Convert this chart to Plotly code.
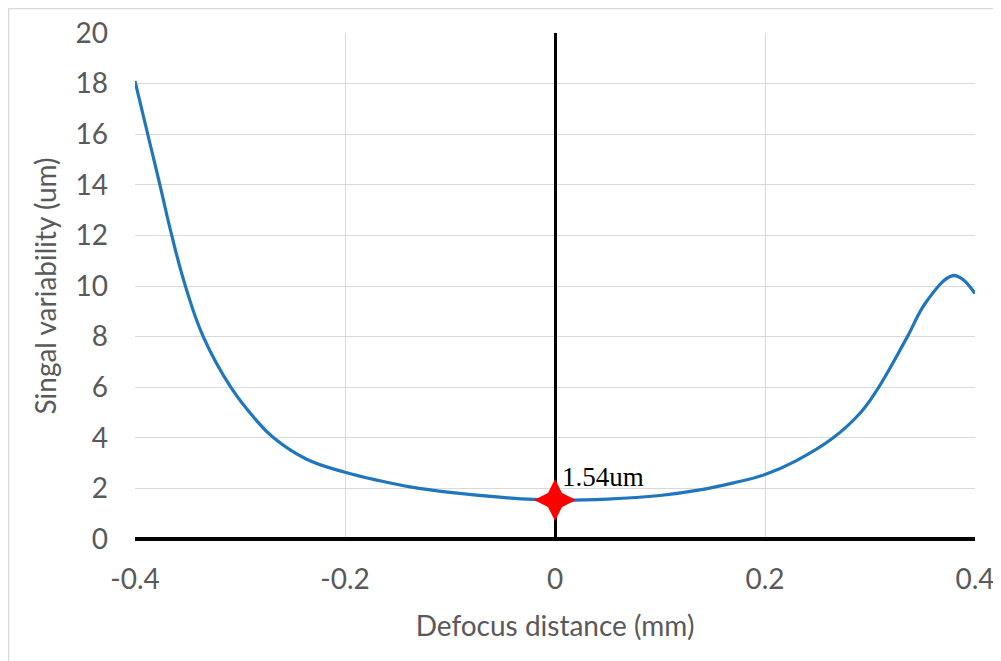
import plotly.graph_objects as go

defocus_mm = [-0.4, -0.387, -0.376, -0.365, -0.352, -0.335, -0.308, -0.285, -0.268, -0.2365,
              -0.2, -0.1667, -0.138, -0.1, -0.05, 0.0, 0.05, 0.1, 0.138, 0.17,
              0.2, 0.23, 0.265, 0.29, 0.306, 0.335, 0.354, 0.378, 0.387, 0.4]
variability_um = [18.1, 15.85, 13.95, 12.0, 10.0, 8.0, 5.95, 4.72, 4.0, 3.15,
                  2.64, 2.3, 2.06, 1.84, 1.645, 1.54, 1.58, 1.72, 1.94, 2.22,
                  2.55, 3.1, 4.0, 4.95, 5.85, 7.95, 9.4, 10.4, 10.3, 9.7]
min_x = [0.0]
min_y = [1.54]
min_label = "1.54um"
x_ticks = [-0.4, -0.2, 0, 0.2, 0.4]
x_ticklabels = ["-0.4", "-0.2", "0", "0.2", "0.4"]
y_ticks = list(range(0, 21, 2))

FONT = "Lato, Liberation Sans, sans-serif"
GRAY = "#595959"
FS = 28

# figure is placed 8px from page corner by the default body margin
W, H = 993, 653
ML, MR, MT, MB = 127, 26, 25, 122
PW, PH = W - ML - MR, H - MT - MB

fig = go.Figure()
fig.add_trace(go.Scatter(x=defocus_mm, y=variability_um, mode="lines",
                         line=dict(color="#1f76bd", width=3.2, shape="spline", smoothing=1.2),
                         showlegend=False, hoverinfo="skip"))
fig.add_trace(go.Scatter(x=min_x, y=min_y, mode="markers",
                         marker=dict(symbol="diamond-tall", size=30, color="#ff0000", line=dict(width=0)),
                         showlegend=False))
fig.add_trace(go.Scatter(x=min_x, y=min_y, mode="markers",
                         marker=dict(symbol="diamond-wide", size=30, color="#ff0000", line=dict(width=0)),
                         showlegend=False))
fig.add_annotation(x=min_x[0], y=min_y[0], text=min_label, showarrow=False,
                   xanchor="left", yanchor="bottom", xshift=5, yshift=6,
                   font=dict(family="Liberation Serif, Times New Roman, serif", size=27, color="black"))

fig.update_layout(
    width=W, height=H,
    margin=dict(l=ML, r=MR, t=MT, b=MB, autoexpand=False),
    paper_bgcolor="white", plot_bgcolor="white",
    font=dict(family=FONT, color=GRAY, size=FS),
    xaxis=dict(range=[-0.4, 0.4], tickvals=x_ticks, ticktext=x_ticklabels,
               showgrid=True, gridcolor="#d9d9d9", gridwidth=1.3,
               zeroline=True, zerolinecolor="black", zerolinewidth=3,
               showline=False, ticks="", ticklabelstandoff=21, automargin=False,
               title=dict(text="Defocus distance (mm)", font=dict(size=FS, color=GRAY), standoff=22),
               tickfont=dict(size=FS, color=GRAY)),
    yaxis=dict(range=[0, 20], tickvals=y_ticks,
               showgrid=True, gridcolor="#d9d9d9", gridwidth=1.3,
               zeroline=False, showline=False, ticks="", ticklabelstandoff=26, automargin=False,
               title=dict(text="Singal variability (um)", font=dict(size=FS, color=GRAY), standoff=10),
               tickfont=dict(size=FS, color=GRAY)),
    shapes=[
        dict(type="line", xref="x", yref="paper", x0=-0.4, x1=0.4, y0=0, y1=0,
             line=dict(color="black", width=4), layer="above"),
        dict(type="line", xref="paper", yref="paper",
             x0=(-ML + 0.5) / PW, x1=(-ML + 0.5) / PW, y0=-MB / PH, y1=1 + (MT - 0.5) / PH,
             line=dict(color="#d9d9d9", width=1.5)),
        dict(type="line", xref="paper", yref="paper",
             x0=(-ML + 0.5) / PW, x1=1 + MR / PW, y0=1 + (MT - 0.5) / PH, y1=1 + (MT - 0.5) / PH,
             line=dict(color="#d9d9d9", width=1.5)),
    ],
)

fig.write_html("out.html")
